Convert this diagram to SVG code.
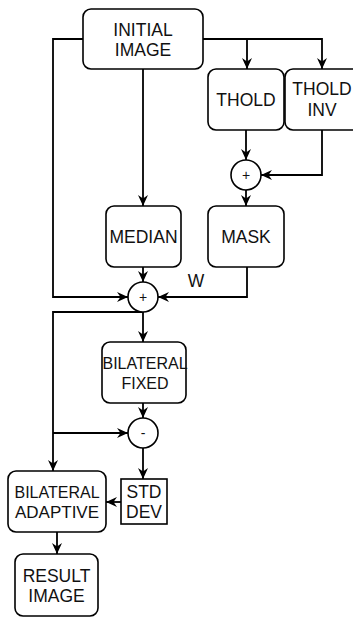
<svg xmlns="http://www.w3.org/2000/svg" width="353" height="617" viewBox="0 0 353 617">
<style>
.box{fill:#fff;stroke:#000;stroke-width:1.6}
.t{font-family:"Liberation Sans",Arial,sans-serif;font-size:17.5px;fill:#111;text-anchor:middle}
.s{font-size:16px}
.m{font-size:17px}
.op{font-family:"Liberation Sans",Arial,sans-serif;font-size:14px;fill:#111;text-anchor:middle}
.c{fill:none;stroke:#000;stroke-width:1.8}
</style>
<defs>
<marker id="a" viewBox="0 0 11 10" refX="11" refY="5" markerWidth="11" markerHeight="10" markerUnits="userSpaceOnUse" orient="auto">
<path d="M0,0 L11,5 L0,10 L3.5,5 z" fill="#000"/>
</marker>
</defs>
<rect width="353" height="617" fill="#fff"/>
<g id="connectors">
<path class="c" d="M203,39 H247 V69" marker-end="url(#a)"/>
<path class="c" d="M203,39 H322 V69" marker-end="url(#a)"/>
<path class="c" d="M83,39 H53 V297 H128" marker-end="url(#a)"/>
<path class="c" d="M143,69 V206" marker-end="url(#a)"/>
<path class="c" d="M246,129 V160" marker-end="url(#a)"/>
<path class="c" d="M322,129 V175 H261" marker-end="url(#a)"/>
<path class="c" d="M246,190 V206" marker-end="url(#a)"/>
<path class="c" d="M143,267 V282" marker-end="url(#a)"/>
<path class="c" d="M247,267 V297 H158" marker-end="url(#a)"/>
<path class="c" d="M143,312 V342" marker-end="url(#a)"/>
<path class="c" d="M143,312 H53 V471" marker-end="url(#a)"/>
<path class="c" d="M53,433 H128" marker-end="url(#a)"/>
<path class="c" d="M143,403 V418" marker-end="url(#a)"/>
<path class="c" d="M143,448 V479" marker-end="url(#a)"/>
<path class="c" d="M121,502 H106" marker-end="url(#a)"/>
<path class="c" d="M57,532 V554" marker-end="url(#a)"/>
<text class="t" x="196" y="287">W</text>
</g>
<g id="initial">
<rect class="box" x="83" y="9" width="120" height="60" rx="8"/>
<text class="t" x="143" y="36">INITIAL</text>
<text class="t" x="143" y="56">IMAGE</text>
</g>
<g id="thold">
<rect class="box" x="208" y="69" width="76" height="61" rx="8"/>
<text class="t" x="246" y="106">THOLD</text>
</g>
<g id="tholdinv">
<rect class="box" x="285" y="69" width="76" height="61" rx="8"/>
<text class="t" x="322" y="95">THOLD</text>
<text class="t" x="322" y="116">INV</text>
</g>
<g id="sum1">
<circle class="box" cx="246" cy="175" r="15"/>
<text class="op" x="246" y="180">+</text>
</g>
<g id="median">
<rect class="box" x="106" y="206" width="75" height="61" rx="8"/>
<text class="t" x="143.5" y="243">MEDIAN</text>
</g>
<g id="mask">
<rect class="box" x="208" y="206" width="76" height="61" rx="8"/>
<text class="t" x="246" y="243">MASK</text>
</g>
<g id="sum2">
<circle class="box" cx="143" cy="297" r="15"/>
<text class="op" x="143" y="302">+</text>
</g>
<g id="bilfixed">
<rect class="box" x="102" y="342" width="84" height="61" rx="8"/>
<text class="t s" x="145" y="369">BILATERAL</text>
<text class="t s" x="145" y="389">FIXED</text>
</g>
<g id="diff">
<circle class="box" cx="143" cy="433" r="15"/>
<text class="op" x="143" y="438">-</text>
</g>
<g id="stddev">
<rect class="box" x="121" y="479" width="46" height="45"/>
<text class="t" x="144" y="498">STD</text>
<text class="t" x="144" y="518">DEV</text>
</g>
<g id="biladaptive">
<rect class="box" x="8" y="471" width="98" height="61" rx="8"/>
<text class="t s" x="57" y="498">BILATERAL</text>
<text class="t m" x="57" y="518">ADAPTIVE</text>
</g>
<g id="result">
<rect class="box" x="15" y="554" width="83" height="62" rx="8"/>
<text class="t" x="56.5" y="582">RESULT</text>
<text class="t" x="56.5" y="602">IMAGE</text>
</g>
</svg>
